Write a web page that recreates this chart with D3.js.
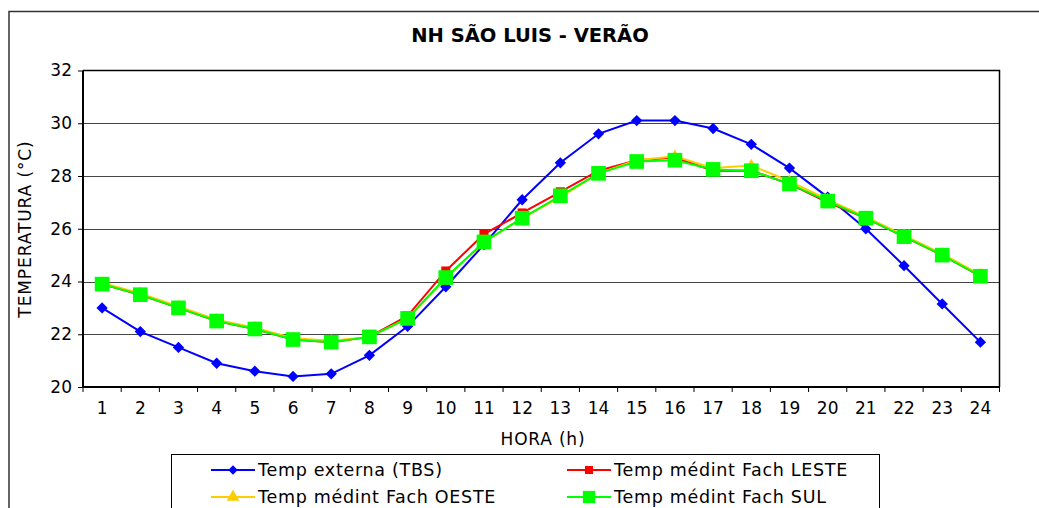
<!DOCTYPE html>
<html>
<head>
<meta charset="utf-8">
<script src="https://cdn.jsdelivr.net/npm/d3@7"></script>
<style>
  body { margin: 0; background: #fff; }
  text { font-family: "DejaVu Sans", Verdana, sans-serif; fill: #000; }
</style>
</head>
<body>
<div class="chart"></div>
<script>
// hours on the x axis
var hours = d3.range(1, 25);
var yTicks = [20, 22, 24, 26, 28, 30, 32];

var tbs   = [23.0, 22.1, 21.5, 20.9, 20.6, 20.4, 20.5, 21.2, 22.3, 23.8, 25.4, 27.1,
             28.5, 29.6, 30.1, 30.1, 29.8, 29.2, 28.3, 27.2, 26.0, 24.6, 23.15, 21.7];
var leste = [23.9, 23.5, 23.0, 22.5, 22.2, 21.8, 21.7, 21.9, 22.7, 24.4, 25.8, 26.6,
             27.4, 28.2, 28.6, 28.7, 28.2, 28.2, 27.7, 27.0, 26.4, 25.7, 25.0, 24.2];
var oeste = [23.95, 23.55, 23.05, 22.55, 22.25, 21.85, 21.75, 21.9, 22.6, 24.1, 25.5, 26.4,
             27.2, 28.1, 28.6, 28.75, 28.3, 28.4, 27.8, 27.1, 26.45, 25.75, 25.05, 24.25];
var sul   = [23.9, 23.5, 23.0, 22.5, 22.2, 21.8, 21.7, 21.9, 22.6, 24.15, 25.5, 26.4,
             27.25, 28.1, 28.55, 28.6, 28.25, 28.2, 27.7, 27.05, 26.4, 25.7, 25.0, 24.2];

var series = [
  {name: "Temp externa (TBS)", values: tbs, color: "#0000ff", shape: "diamond", size: 64},
  {name: "Temp médint Fach LESTE", values: leste, color: "#ff0000", shape: "square", size: 81},
  {name: "Temp médint Fach OESTE", values: oeste, color: "#ffcc00", shape: "triangle", size: 60},
  {name: "Temp médint Fach SUL", values: sul, color: "#00ff00", shape: "square", size: 215}
];

var width = 1039, height = 508;
var plot = {left: 83, right: 999.5, top: 70.5, bottom: 387};

var svg = d3.select(".chart").append("svg")
  .attr("width", width)
  .attr("height", height);

// outer frame (cut off at right / bottom)
svg.append("path")
  .attr("d", `M9,${height + 5} V11.5 H${width + 5}`)
  .attr("fill", "none")
  .attr("stroke", "#333")
  .attr("stroke-width", 1.5);

var x = d3.scaleBand().domain(hours).range([plot.left, plot.right]).padding(0);
var y = d3.scaleLinear().domain([20, 32]).range([plot.bottom, plot.top]);

// gridlines
svg.append("g")
  .selectAll("line")
  .data(yTicks.filter(d => d > 20 && d < 32)).enter()
  .append("line")
  .attr("x1", plot.left).attr("x2", plot.right)
  .attr("y1", d => Math.round(y(d)) + 0.5).attr("y2", d => Math.round(y(d)) + 0.5)
  .attr("stroke", "#444")
  .attr("stroke-width", 1);

// plot frame top/right
svg.append("path")
  .attr("d", `M${plot.left},${plot.top} H${plot.right} V${plot.bottom}`)
  .attr("fill", "none")
  .attr("stroke", "#000")
  .attr("stroke-width", 1.5);

/* Axes */
var yAxis = d3.axisLeft(y).tickValues(yTicks).tickSize(5).tickPadding(6);
var gy = svg.append("g")
  .attr("transform", `translate(${plot.left},0)`)
  .call(yAxis);
gy.select(".domain").attr("stroke", "#000").attr("stroke-width", 2).attr("d", `M0,${plot.top}V${plot.bottom}`);
gy.selectAll("text").style("font-size", "17px").attr("fill", "#000");

var gx = svg.append("g")
  .attr("transform", `translate(0,${plot.bottom})`)
  .call(d3.axisBottom(x).tickSize(0).tickPadding(15));
gx.select(".domain").attr("stroke", "#000").attr("stroke-width", 2).attr("d", `M${plot.left},0H${plot.right}`);
gx.selectAll("text").style("font-size", "17px").attr("fill", "#000");
// ticks at category boundaries
gx.selectAll(".bound")
  .data(hours).enter()
  .append("line")
  .attr("x1", d => x(d) + x.bandwidth()).attr("x2", d => x(d) + x.bandwidth())
  .attr("y1", 0).attr("y2", 5)
  .attr("stroke", "#000");
gx.append("line").attr("x1", plot.left).attr("x2", plot.left).attr("y1", 0).attr("y2", 5).attr("stroke", "#000");

/* Titles */
svg.append("text")
  .attr("x", 530).attr("y", 42)
  .attr("text-anchor", "middle")
  .style("font-size", "19.5px").style("font-weight", "bold")
  .text("NH SÃO LUIS - VERÃO");

svg.append("text")
  .attr("transform", `translate(31,229) rotate(-90)`)
  .attr("text-anchor", "middle")
  .style("font-size", "17px").style("letter-spacing", "0.9px")
  .text("TEMPERATURA (°C)");

svg.append("text")
  .attr("x", 543).attr("y", 445)
  .attr("text-anchor", "middle")
  .style("font-size", "17px").style("letter-spacing", "0.8px")
  .text("HORA (h)");

/* Lines and markers */
var symbolType = {diamond: d3.symbolSquare, square: d3.symbolSquare, triangle: d3.symbolTriangle};
function marker(sel, s, size) {
  sel.attr("d", d3.symbol().type(symbolType[s.shape]).size(size))
    .attr("fill", s.color);
}

var line = d3.line()
  .x((d, i) => x(hours[i]) + x.bandwidth() / 2)
  .y(d => y(d));

series.forEach(function(s) {
  var g = svg.append("g");
  g.append("path")
    .attr("d", line(s.values))
    .attr("fill", "none")
    .attr("stroke", s.color)
    .attr("stroke-width", 2);
  g.selectAll("path.m")
    .data(s.values).enter()
    .append("path")
    .attr("class", "m")
    .attr("transform", (d, i) => `translate(${x(hours[i]) + x.bandwidth() / 2},${y(d)})` + (s.shape === "diamond" ? " rotate(45)" : ""))
    .call(marker, s, s.size);
});

/* Legend */
svg.append("rect")
  .attr("x", 171.5).attr("y", 454.5)
  .attr("width", 708).attr("height", 80)
  .attr("fill", "#fff")
  .attr("stroke", "#000");

var legPos = [[211, 470], [567, 470], [211, 497], [567, 497]];
var legSize = [45, 64, 70, 150];
series.forEach(function(s, i) {
  var p = legPos[i];
  var g = svg.append("g").attr("transform", `translate(${p[0]},${p[1]})`);
  g.append("line").attr("x1", 0).attr("x2", 44).attr("y1", 0).attr("y2", 0)
    .attr("stroke", s.color).attr("stroke-width", 2);
  g.append("path")
    .attr("transform", "translate(22,0)" + (s.shape === "diamond" ? " rotate(45)" : ""))
    .call(marker, s, legSize[i]);
  g.append("text")
    .attr("x", 47).attr("y", 6)
    .style("font-size", "17.5px").style("letter-spacing", "0.7px")
    .text(s.name);
});
</script>
</body>
</html>
